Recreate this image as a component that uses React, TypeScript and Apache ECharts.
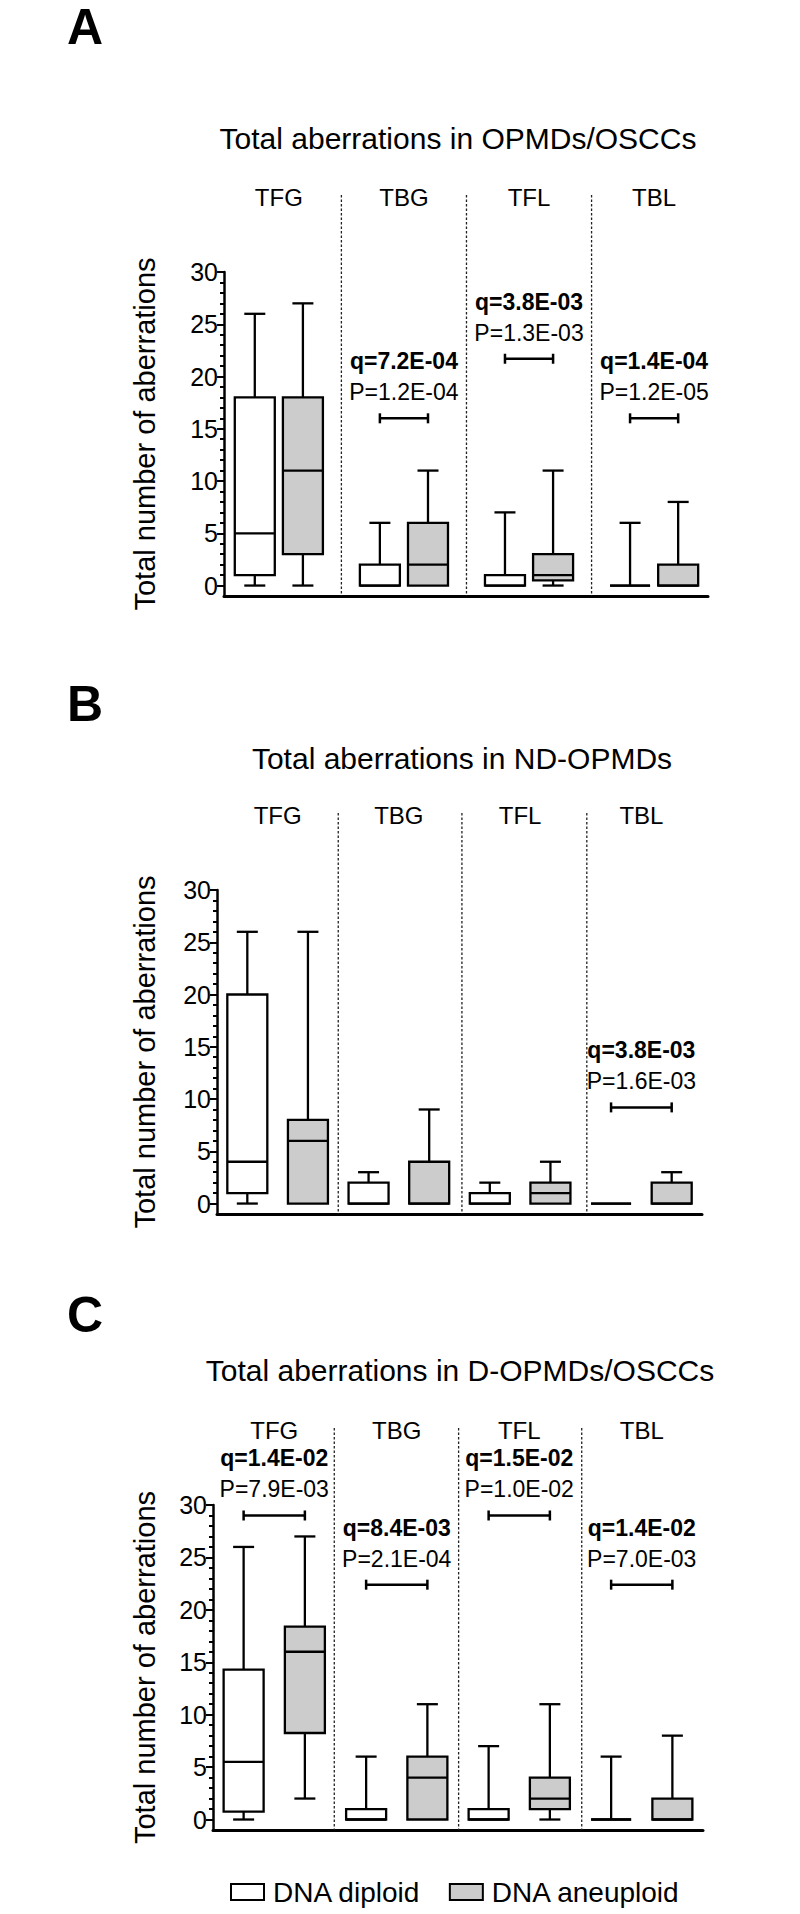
import React, { useEffect, useRef } from 'react';
import * as echarts from 'echarts';

// ---------- data ----------
const groups = ['TFG', 'TBG', 'TFL', 'TBL'];
const seriesNames = ['DNA diploid', 'DNA aneuploid'];
const panelLetters = ['A', 'B', 'C'];
const panelTitles = [
  'Total aberrations in OPMDs/OSCCs',
  'Total aberrations in ND-OPMDs',
  'Total aberrations in D-OPMDs/OSCCs',
];
const yMajorTicks = [0, 5, 10, 15, 20, 25, 30];
const yMinorTicks = [0, 1, 2, 3, 4, 5, 6, 7, 8, 9, 10, 11, 12, 13, 14, 15, 16, 17, 18, 19, 20, 21, 22, 23, 24, 25, 26, 27, 28, 29, 30];

// each row: [min, Q1, median, Q3, max] for TFG, TBG, TFL, TBL
const diploidA = [[0, 1, 5, 18, 26], [0, 0, 0, 2, 6], [0, 0, 0, 1, 7], [0, 0, 0, 0, 6]];
const aneuploidA = [[0, 3, 11, 18, 27], [0, 0, 2, 6, 11], [0, 0.5, 1, 3, 11], [0, 0, 0, 2, 8]];
const diploidB = [[0, 1, 4, 20, 26], [0, 0, 0, 2, 3], [0, 0, 0, 1, 2], [0, 0, 0, 0, 0]];
const aneuploidB = [[0, 0, 6, 8, 26], [0, 0, 0, 4, 9], [0, 0, 1, 2, 4], [0, 0, 0, 2, 3]];
const diploidC = [[0, 0.75, 5.5, 14.3, 26], [0, 0, 0, 1, 6], [0, 0, 0, 1, 7], [0, 0, 0, 0, 6]];
const aneuploidC = [[2, 8.25, 16, 18.4, 27], [0, 0, 4, 6, 11], [0, 1, 2, 4, 11], [0, 0, 0, 2, 8]];

// significance brackets: group index, bracket height (y value), q and P texts
const annotA = [
  { group: 1, y: 16, q: 'q=7.2E-04', p: 'P=1.2E-04' },
  { group: 2, y: 21.7, q: 'q=3.8E-03', p: 'P=1.3E-03' },
  { group: 3, y: 16, q: 'q=1.4E-04', p: 'P=1.2E-05' },
];
const annotB = [{ group: 3, y: 9.2, q: 'q=3.8E-03', p: 'P=1.6E-03' }];
const annotC = [
  { group: 0, y: 29, q: 'q=1.4E-02', p: 'P=7.9E-03' },
  { group: 1, y: 22.4, q: 'q=8.4E-03', p: 'P=2.1E-04' },
  { group: 2, y: 29, q: 'q=1.5E-02', p: 'P=1.0E-02' },
  { group: 3, y: 22.4, q: 'q=1.4E-02', p: 'P=7.0E-03' },
];

const panelData = [
  { diploid: diploidA, aneuploid: aneuploidA, annot: annotA },
  { diploid: diploidB, aneuploid: aneuploidB, annot: annotB },
  { diploid: diploidC, aneuploid: aneuploidC, annot: annotC },
];

// ---------- layout / style ----------
const LAYOUT = [
  { left: 224, right: 92, top: 272, height: 324, xMin: -0.64, xMax: 9.42, step: 2.6, dividers: [1.8, 4.4, 7.0], nameGap: 65, letterY: 27, titleX: 458, titleY: 138 },
  { left: 217, right: 98, top: 890, height: 324, xMin: -0.5, xMax: 7.5, step: 2, dividers: [1.5, 3.54, 5.6], nameGap: 58, letterY: 704, titleX: 462, titleY: 758 },
  { left: 213, right: 97, top: 1505, height: 325, xMin: -0.5, xMax: 7.5, step: 2, dividers: [1.48, 3.51, 5.52], nameGap: 54, letterY: 1315, titleX: 460, titleY: 1370 },
];
const FONT = "'Liberation Sans', Arial, Helvetica, sans-serif";
const INK = '#000000';
const FILLS = ['#ffffff', '#cccccc'];
const HALF_BOX = 20;
const HALF_CAP = 10.5;
const STROKE = 2.3;

function seg(x1: number, y1: number, x2: number, y2: number, w = STROKE) {
  return { type: 'line', shape: { x1, y1, x2, y2 }, style: { stroke: INK, lineWidth: w } };
}

function boxSeries(panel: number, sub: number, rows: number[][]) {
  const L = LAYOUT[panel];
  const fill = FILLS[sub];
  return {
    type: 'custom',
    name: seriesNames[sub],
    xAxisIndex: panel,
    yAxisIndex: panel * 2,
    coordinateSystem: 'cartesian2d',
    clip: false,
    silent: true,
    itemStyle: { color: fill, borderColor: INK, borderWidth: 2 },
    encode: { x: 0, y: [1, 2, 3, 4, 5] },
    data: rows.map((r, g) => [g * L.step + sub, r[0], r[1], r[2], r[3], r[4]]),
    renderItem: (params: any, api: any) => {
      const x = api.value(0);
      const vMin = api.value(1), vQ1 = api.value(2), vMed = api.value(3), vQ3 = api.value(4), vMax = api.value(5);
      const cx = api.coord([x, 0])[0];
      const py = (v: number) => api.coord([x, v])[1];
      const yMin = py(vMin), yQ1 = py(vQ1), yMed = py(vMed), yQ3 = py(vQ3), yMax = py(vMax);
      const children: any[] = [];
      if (vMax > vQ3) {
        children.push(seg(cx, yQ3, cx, yMax));
        children.push(seg(cx - HALF_CAP, yMax, cx + HALF_CAP, yMax));
      }
      if (vMin < vQ1) {
        children.push(seg(cx, yQ1, cx, yMin));
        children.push(seg(cx - HALF_CAP, yMin, cx + HALF_CAP, yMin));
      }
      children.push({
        type: 'rect',
        shape: { x: cx - HALF_BOX, y: yQ3, width: HALF_BOX * 2, height: yQ1 - yQ3 },
        style: { fill, stroke: INK, lineWidth: STROKE },
      });
      children.push(seg(cx - HALF_BOX, yMed, cx + HALF_BOX, yMed));
      return { type: 'group', children };
    },
  };
}

function annotSeries(panel: number, annots: any[]) {
  const L = LAYOUT[panel];
  return {
    type: 'custom',
    xAxisIndex: panel,
    yAxisIndex: panel * 2,
    coordinateSystem: 'cartesian2d',
    clip: false,
    silent: true,
    data: annots.map((a) => [a.group * L.step, a.group * L.step + 1, a.y]),
    renderItem: (params: any, api: any) => {
      const a = annots[params.dataIndex];
      const [x1, y] = api.coord([api.value(0), api.value(2)]);
      const x2 = api.coord([api.value(1), api.value(2)])[0];
      const cx = (x1 + x2) / 2;
      return {
        type: 'group',
        children: [
          seg(x1, y, x2, y, 2.5),
          seg(x1, y - 5, x1, y + 5, 2.5),
          seg(x2, y - 5, x2, y + 5, 2.5),
          {
            type: 'text', x: cx, y: y - 57,
            style: { text: a.q, fontSize: 23, fontWeight: 'bold', fontFamily: FONT, fill: INK, align: 'center', verticalAlign: 'middle' },
          },
          {
            type: 'text', x: cx, y: y - 26,
            style: { text: a.p, fontSize: 23, fontFamily: FONT, fill: INK, align: 'center', verticalAlign: 'middle' },
          },
        ],
      };
    },
  };
}

function dividerSeries(panel: number) {
  const L = LAYOUT[panel];
  return {
    type: 'custom',
    xAxisIndex: panel,
    yAxisIndex: panel * 2,
    coordinateSystem: 'cartesian2d',
    clip: false,
    silent: true,
    data: L.dividers.map((d) => [d]),
    renderItem: (params: any, api: any) => {
      const cs = params.coordSys;
      const x = api.coord([api.value(0), 0])[0];
      return {
        type: 'line',
        shape: { x1: x, y1: cs.y - 77, x2: x, y2: cs.y + cs.height },
        style: { stroke: '#222', lineWidth: 1.3, lineDash: [2.5, 2] },
      };
    },
  };
}

function categorySeries(panel: number) {
  const L = LAYOUT[panel];
  return {
    type: 'custom',
    xAxisIndex: panel,
    yAxisIndex: panel * 2,
    coordinateSystem: 'cartesian2d',
    clip: false,
    silent: true,
    data: groups.map((_, g) => [g * L.step + 0.5]),
    renderItem: (params: any, api: any) => {
      const cs = params.coordSys;
      const x = api.coord([api.value(0), 0])[0];
      return {
        type: 'text', x, y: cs.y - 75,
        style: { text: groups[params.dataIndex], fontSize: 24, fontFamily: FONT, fill: INK, align: 'center', verticalAlign: 'middle' },
      };
    },
  };
}

function buildOption() {
  const grid: any[] = [];
  const xAxis: any[] = [];
  const yAxis: any[] = [];
  const series: any[] = [];
  LAYOUT.forEach((L, i) => {
    grid.push({ left: L.left, right: L.right, top: L.top, height: L.height });
    xAxis.push({
      type: 'value', gridIndex: i, min: L.xMin, max: L.xMax,
      axisLine: { show: true, onZero: false, lineStyle: { color: INK, width: 3 } },
      axisTick: { show: false }, axisLabel: { show: false }, splitLine: { show: false },
    });
    yAxis.push({
      type: 'value', gridIndex: i, min: -1, max: 30, position: 'left',
      axisLine: { show: true, onZero: false, lineStyle: { color: INK, width: 2.5 } },
      axisTick: { show: true, length: 7, customValues: yMajorTicks, lineStyle: { color: INK, width: 2 } },
      axisLabel: { customValues: yMajorTicks, fontSize: 25, color: INK, margin: 6, fontFamily: FONT },
      splitLine: { show: false },
      name: 'Total number of aberrations', nameLocation: 'middle', nameRotate: 90, nameGap: L.nameGap,
      nameTextStyle: { fontSize: 29, color: INK, fontFamily: FONT },
    });
    yAxis.push({
      type: 'value', gridIndex: i, min: -1, max: 30, position: 'left',
      axisLine: { show: false, onZero: false },
      axisTick: { show: true, length: 4, customValues: yMinorTicks, lineStyle: { color: INK, width: 2 } },
      axisLabel: { show: false }, splitLine: { show: false },
    });
    const pd = panelData[i];
    series.push(dividerSeries(i));
    series.push(categorySeries(i));
    series.push(boxSeries(i, 0, pd.diploid));
    series.push(boxSeries(i, 1, pd.aneuploid));
    series.push(annotSeries(i, pd.annot));
  });

  const graphic: any[] = [];
  panelLetters.forEach((t, i) => {
    graphic.push({
      type: 'text', x: 67, y: LAYOUT[i].letterY,
      style: { text: t, fontSize: 50, fontWeight: 'bold', fontFamily: FONT, fill: '#000', align: 'left', verticalAlign: 'middle' },
    });
  });
  panelTitles.forEach((t, i) => {
    graphic.push({
      type: 'text', x: LAYOUT[i].titleX, y: LAYOUT[i].titleY,
      style: { text: t, fontSize: 30, fontFamily: FONT, fill: INK, align: 'center', verticalAlign: 'middle' },
    });
  });

  return {
    animation: false,
    backgroundColor: '#ffffff',
    grid, xAxis, yAxis, series, graphic,
    legend: {
      left: 225, top: 1873, itemWidth: 33, itemHeight: 16, itemGap: 28, icon: 'rect', selectedMode: false,
      data: [
        { name: seriesNames[0], itemStyle: { color: FILLS[0], borderColor: INK, borderWidth: 2 } },
        { name: seriesNames[1], itemStyle: { color: FILLS[1], borderColor: INK, borderWidth: 2 } },
      ],
      textStyle: { fontSize: 28, color: INK, fontFamily: FONT, padding: [0, 0, 0, 4] },
    },
  };
}

export default function App() {
  const ref = useRef<HTMLDivElement>(null);
  useEffect(() => {
    if (!ref.current) return;
    const chart = echarts.init(ref.current, null, { renderer: 'svg' });
    chart.setOption(buildOption() as any);
    return () => chart.dispose();
  }, []);
  return (
    <div
      ref={ref}
      style={{ position: 'absolute', left: 0, top: 0, width: 800, height: 1914, background: '#fff' }}
    />
  );
}
